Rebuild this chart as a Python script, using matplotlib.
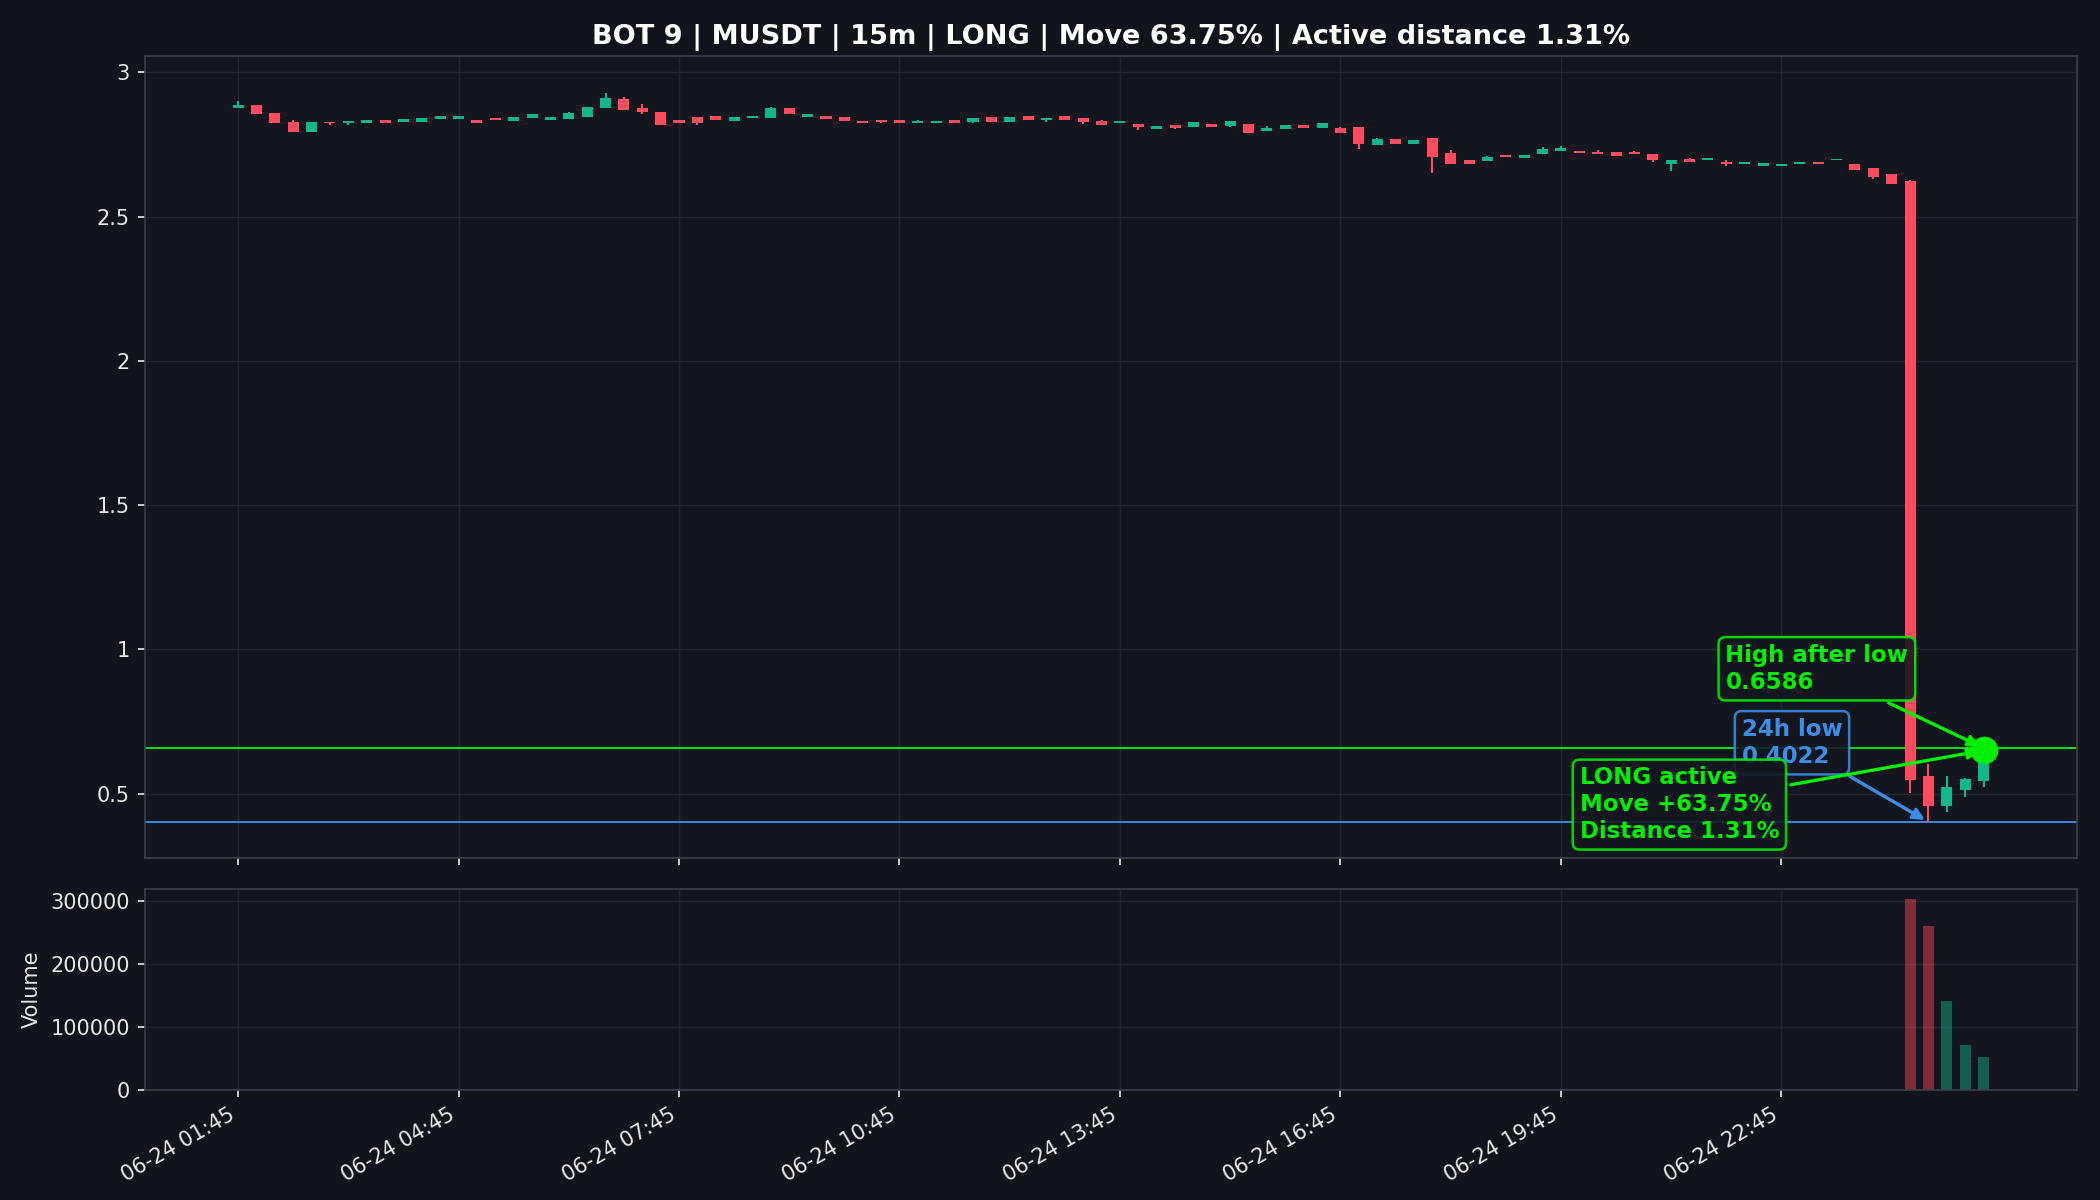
import numpy as np
import pandas as pd
import matplotlib
matplotlib.use("Agg")
import matplotlib.pyplot as plt

# 15m candles, MUSDT, starting 06-24 01:45
times = pd.date_range("2024-06-24 01:45", periods=96, freq="15min")

opens = [2.878, 2.887, 2.859, 2.828, 2.795, 2.828, 2.826, 2.826, 2.835, 2.829, 2.829, 2.840,
         2.840, 2.835, 2.842, 2.833, 2.843, 2.835, 2.840, 2.847, 2.878, 2.908, 2.877, 2.863,
         2.835, 2.846, 2.849, 2.833, 2.843, 2.843, 2.877, 2.847, 2.849, 2.846, 2.832, 2.835,
         2.835, 2.823, 2.823, 2.835, 2.828, 2.846, 2.828, 2.849, 2.835, 2.849, 2.842, 2.832,
         2.823, 2.821, 2.805, 2.818, 2.809, 2.821, 2.815, 2.821, 2.797, 2.802, 2.818, 2.808,
         2.808, 2.811, 2.750, 2.770, 2.753, 2.773, 2.721, 2.697, 2.694, 2.714, 2.702, 2.716,
         2.729, 2.728, 2.725, 2.725, 2.725, 2.717, 2.684, 2.700, 2.695, 2.690, 2.681, 2.677,
         2.674, 2.684, 2.690, 2.695, 2.683, 2.669, 2.649, 2.622, 0.560, 0.456, 0.513, 0.544]
highs = [2.901, 2.887, 2.859, 2.835, 2.828, 2.828, 2.832, 2.835, 2.835, 2.839, 2.842, 2.849,
         2.849, 2.835, 2.842, 2.846, 2.856, 2.846, 2.863, 2.880, 2.929, 2.915, 2.891, 2.863,
         2.835, 2.846, 2.849, 2.846, 2.849, 2.880, 2.877, 2.856, 2.849, 2.846, 2.832, 2.835,
         2.835, 2.835, 2.832, 2.835, 2.842, 2.846, 2.846, 2.849, 2.842, 2.849, 2.842, 2.835,
         2.832, 2.821, 2.815, 2.818, 2.828, 2.821, 2.832, 2.821, 2.815, 2.818, 2.818, 2.825,
         2.811, 2.811, 2.773, 2.770, 2.766, 2.773, 2.732, 2.697, 2.711, 2.714, 2.714, 2.742,
         2.745, 2.728, 2.732, 2.725, 2.727, 2.717, 2.697, 2.704, 2.704, 2.697, 2.690, 2.687,
         2.683, 2.690, 2.690, 2.700, 2.683, 2.669, 2.649, 2.626, 0.603, 0.560, 0.553, 0.6586]
lows = [2.877, 2.854, 2.823, 2.795, 2.795, 2.819, 2.819, 2.826, 2.823, 2.829, 2.829, 2.840,
        2.840, 2.823, 2.835, 2.833, 2.843, 2.835, 2.840, 2.847, 2.878, 2.871, 2.857, 2.816,
        2.826, 2.816, 2.836, 2.833, 2.843, 2.843, 2.854, 2.847, 2.840, 2.833, 2.826, 2.826,
        2.826, 2.823, 2.823, 2.826, 2.826, 2.828, 2.828, 2.835, 2.828, 2.835, 2.821, 2.818,
        2.823, 2.801, 2.805, 2.804, 2.809, 2.809, 2.811, 2.791, 2.797, 2.802, 2.808, 2.808,
        2.791, 2.736, 2.750, 2.753, 2.753, 2.650, 2.684, 2.681, 2.692, 2.705, 2.702, 2.716,
        2.729, 2.719, 2.716, 2.709, 2.716, 2.691, 2.657, 2.688, 2.695, 2.674, 2.681, 2.677,
        2.674, 2.684, 2.681, 2.695, 2.660, 2.632, 2.612, 0.504, 0.4022, 0.435, 0.487, 0.522]
closes = [2.887, 2.857, 2.823, 2.795, 2.828, 2.823, 2.832, 2.835, 2.823, 2.839, 2.842, 2.849,
          2.849, 2.823, 2.835, 2.846, 2.856, 2.846, 2.859, 2.880, 2.911, 2.871, 2.861, 2.816,
          2.826, 2.826, 2.836, 2.846, 2.849, 2.877, 2.854, 2.856, 2.840, 2.833, 2.826, 2.828,
          2.826, 2.832, 2.832, 2.826, 2.842, 2.828, 2.846, 2.835, 2.842, 2.835, 2.828, 2.818,
          2.832, 2.812, 2.815, 2.808, 2.828, 2.809, 2.832, 2.791, 2.808, 2.818, 2.808, 2.825,
          2.791, 2.753, 2.770, 2.753, 2.766, 2.706, 2.684, 2.681, 2.707, 2.705, 2.714, 2.735,
          2.739, 2.719, 2.716, 2.709, 2.716, 2.695, 2.697, 2.688, 2.704, 2.681, 2.690, 2.687,
          2.683, 2.690, 2.681, 2.700, 2.660, 2.636, 2.612, 0.546, 0.456, 0.522, 0.550, 0.650]
volume = [0, 0, 0, 0, 0, 0, 0, 0, 0, 0, 0, 0,
          0, 0, 0, 0, 0, 0, 0, 0, 0, 0, 0, 0,
          0, 0, 0, 0, 0, 0, 0, 0, 0, 0, 0, 0,
          0, 0, 0, 0, 0, 0, 0, 0, 0, 0, 0, 0,
          0, 0, 0, 0, 0, 0, 0, 0, 0, 0, 0, 0,
          0, 0, 0, 0, 0, 0, 0, 0, 0, 0, 0, 0,
          0, 0, 0, 0, 0, 0, 0, 0, 0, 0, 0, 0,
          0, 0, 0, 0, 0, 0, 0, 303000, 260000, 141000, 70600, 53000]

low_24h = 0.4022
low_idx = 92
high_after = 0.6586
high_idx = 95
last_price = closes[-1]
move_pct = 63.75
dist_pct = 1.31

BG = "#11141b"
AX_BG = "#13161e"
UP = "#12b88c"
DOWN = "#ff4b5e"
LIME = "#00f000"
BLUE = "#3a8ee8"
TXT = "#e8e8e8"

o = np.array(opens)
h = np.array(highs)
l = np.array(lows)
c = np.array(closes)
x = np.arange(len(o))
up = c >= o
cols = np.where(up, UP, DOWN)

fig, (ax, axv) = plt.subplots(2, 1, figsize=(14, 8), dpi=150, sharex=True,
                              gridspec_kw={"height_ratios": [4, 1]})
fig.patch.set_facecolor(BG)
plt.subplots_adjust(left=0.0689, right=0.989, bottom=0.0917, top=0.953, hspace=0.062)

for a in (ax, axv):
    a.set_facecolor(AX_BG)
    a.grid(True, color="#262b35", lw=0.7, alpha=0.8)
    a.set_axisbelow(True)
    for s in a.spines.values():
        s.set_color("#3b3f49")
    a.tick_params(colors=TXT, labelsize=10)

# candles
ax.vlines(x, l, h, color=cols, lw=1.0, zorder=2)
ax.bar(x, np.abs(c - o), bottom=np.minimum(o, c), width=0.6, color=cols, zorder=3)

ax.axhline(high_after, color=LIME, lw=0.9, zorder=1.5)
ax.axhline(low_24h, color=BLUE, lw=0.9, zorder=1.5)
ax.scatter([high_idx], [last_price], s=150, color=LIME, zorder=6)

box = dict(boxstyle="round,pad=0.3", facecolor=AX_BG, alpha=0.88, lw=1.2)
txt_kw = dict(textcoords="offset points", ha="center", va="center", multialignment="left",
              fontsize=11, fontweight="bold")

ax.annotate(f"High after low\n{high_after:.4f}", xy=(high_idx, high_after),
            xytext=(-80, 38), color=LIME,
            bbox={**box, "edgecolor": LIME},
            arrowprops=dict(arrowstyle="-|>", color=LIME, lw=1.6), zorder=7, **txt_kw)
ax.annotate(f"24h low\n{low_24h:.4f}", xy=(low_idx, low_24h),
            xytext=(-65.5, 38), color=BLUE,
            bbox={**box, "edgecolor": BLUE},
            arrowprops=dict(arrowstyle="-|>", color=BLUE, lw=1.6), zorder=7, **txt_kw)
ax.annotate(f"LONG active\nMove +{move_pct:.2f}%\nDistance {dist_pct:.2f}%",
            xy=(high_idx, last_price),
            xytext=(-146, -26), color=LIME,
            bbox={**box, "edgecolor": LIME},
            arrowprops=dict(arrowstyle="-|>", color=LIME, lw=1.6), zorder=8, **txt_kw)

ax.yaxis.set_major_formatter(plt.FuncFormatter(lambda v, p: f"{v:g}"))
ax.set_title(f"BOT 9 | MUSDT | 15m | LONG | Move {move_pct:.2f}% | Active distance {dist_pct:.2f}%",
             color="white", fontsize=13, fontweight="bold")

# volume
axv.bar(x, volume, width=0.6, color=cols, alpha=0.45)
axv.set_ylabel("Volume", color=TXT, fontsize=10)
axv.ticklabel_format(axis="y", style="plain")

ticks = x[::12]
axv.set_xticks(ticks)
axv.set_xticklabels([times[i].strftime("%m-%d %H:%M") for i in ticks], rotation=30, ha="right")
ax.tick_params(labelbottom=False)

plt.savefig("out.png", dpi=150, facecolor=BG)
